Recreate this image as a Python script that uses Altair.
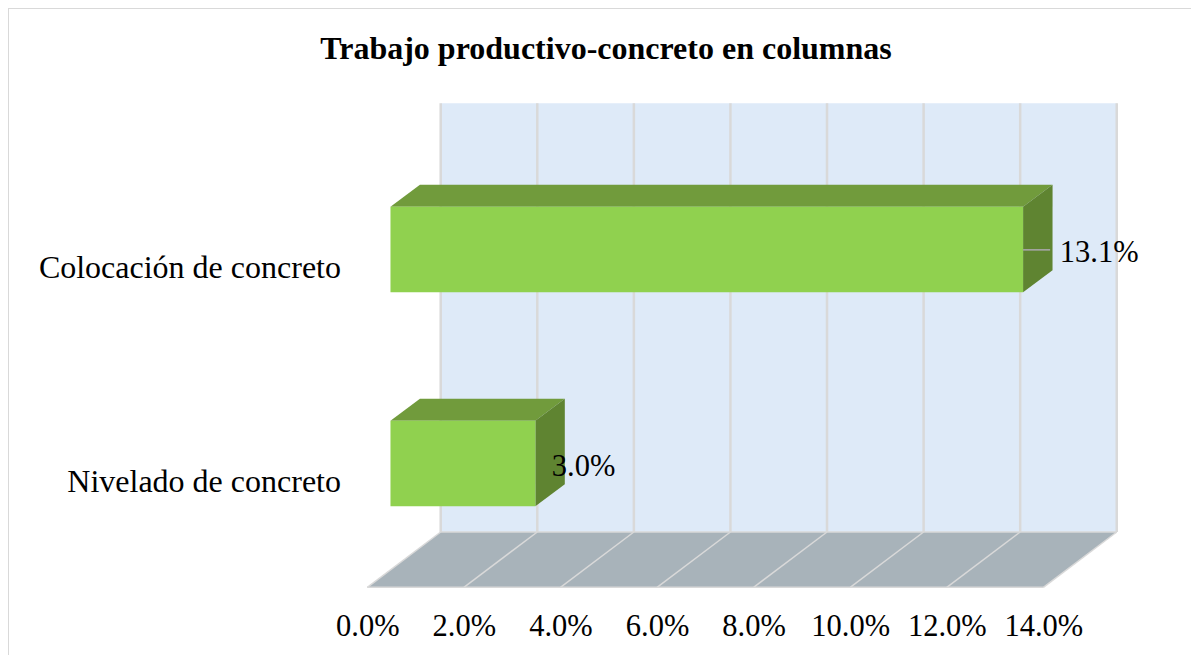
import altair as alt
import pandas as pd

# ---- values
title = "Trabajo productivo-concreto en columnas"
categories = ["Colocación de concreto", "Nivelado de concreto"]
values = [13.1, 3.0]            # percent
ticks = [0, 2, 4, 6, 8, 10, 12, 14]

# ---- geometry in data units (x: percent points, y: levels above the floor's front edge)
PX_PER_PCT = 48.29
WIDTH, HEIGHT = 1183, 587
X0 = 359.3 / PX_PER_PCT
Y0 = 67.7
x_scale = alt.Scale(domain=[-X0, WIDTH / PX_PER_PCT - X0], range=[0, WIDTH], nice=False, zero=False)
y_scale = alt.Scale(domain=[-Y0, HEIGHT - Y0], range=[HEIGHT, 0], nice=False, zero=False)

FLOOR_DX, FLOOR_DY = 1.52, 55.3
WALL_TOP = 484.0
BAR_X0 = 0.48
BAR_DX, BAR_DY = 0.61, 22.0
BAR_BASE = [295.0, 81.0]
BAR_H = 85.5
LABEL_X = [14.34, 3.82]
LABEL_Y = [325.5, 111.5]
CAT_Y = [309.3, 95.0]

C_WALL, C_FLOOR, C_GRID = "#deeaf8", "#a8b3ba", "#d9d9d9"
C_FRONT, C_TOP, C_SIDE = "#90d14f", "#719b3c", "#5f8431"
FONT = "Liberation Serif"
FS = 30.5
FS_CAT = 32
FS_TITLE = 32


def top_face(name, a, b, level, dx, dy, fill):
    return [
        dict(face=name, fill=fill, x=a, y=level, y2=level),
        dict(face=name, fill=fill, x=a + dx, y=level + dy, y2=level),
        dict(face=name, fill=fill, x=b, y=level + dy, y2=level),
        dict(face=name, fill=fill, x=b + dx, y=level + dy, y2=level + dy),
    ]


def side_face(name, a, lo, hi, dx, dy, fill):
    return [
        dict(face=name, fill=fill, x=a, y=hi, y2=lo),
        dict(face=name, fill=fill, x=a + dx, y=hi + dy, y2=lo + dy),
    ]


X = alt.X("x:Q", scale=x_scale, title=None,
          axis=alt.Axis(values=ticks, labelExpr="format(datum.value, '.1f') + '%'", grid=False,
                        domain=False, ticks=False, offset=-20, labelPadding=0,
                        labelBaseline="alphabetic", labelFont=FONT, labelFontSize=FS,
                        labelColor="#000000", labelFlush=False, labelOverlap=False, title=None))
XN2 = alt.X2("x2:Q")
Y = alt.Y("y:Q", scale=y_scale, axis=None)
Y2 = alt.Y2("y2:Q")

# back wall
wall = alt.Chart(pd.DataFrame([dict(x=FLOOR_DX, x2=14 + FLOOR_DX, y=FLOOR_DY, y2=WALL_TOP)])).mark_rect(
    color=C_WALL).encode(x=X, x2=XN2, y=Y, y2=Y2)

# wall grid
grid = alt.Chart(pd.DataFrame([dict(x=t + FLOOR_DX, y=FLOOR_DY, y2=WALL_TOP) for t in ticks])).mark_rule(
    color=C_GRID, strokeWidth=2.5).encode(x=X, y=Y, y2=Y2)

# floor
floor = alt.Chart(pd.DataFrame(top_face("floor", 0, 14, 0, FLOOR_DX, FLOOR_DY, C_FLOOR))).mark_area(
    orient="vertical", interpolate="linear", color=C_FLOOR).encode(x=X, y=Y, y2=Y2)

floor_line_rows = []
for t in ticks:
    floor_line_rows += [dict(t=t, x=t, y=0), dict(t=t, x=t + FLOOR_DX, y=FLOOR_DY)]
floor_lines = alt.Chart(pd.DataFrame(floor_line_rows)).mark_line(color=C_GRID, strokeWidth=1.5).encode(
    x=X, y=Y, detail="t:Q")
floor_edges = alt.Chart(pd.DataFrame([dict(x=0, x2=14, y=0), dict(x=FLOOR_DX, x2=14 + FLOOR_DX, y=FLOOR_DY)])).mark_rule(
    color=C_GRID, strokeWidth=1.5).encode(x=X, x2=XN2, y=Y)

# bars
front_rows, top_rows, side_rows = [], [], []
for c, v, b in zip(categories, values, BAR_BASE):
    r = BAR_X0 + v
    front_rows.append(dict(x=BAR_X0, x2=r, y=b, y2=b + BAR_H))
    top_rows += top_face(c + " top", BAR_X0, r, b + BAR_H, BAR_DX, BAR_DY, C_TOP)
    side_rows += side_face(c + " side", r, b, b + BAR_H, BAR_DX, BAR_DY, C_SIDE)

tops = alt.Chart(pd.DataFrame(top_rows)).mark_area(orient="vertical", interpolate="linear", color=C_TOP).encode(
    x=X, y=Y, y2=Y2, detail="face:N")
sides = alt.Chart(pd.DataFrame(side_rows)).mark_area(orient="vertical", interpolate="linear", color=C_SIDE).encode(
    x=X, y=Y, y2=Y2, detail="face:N")
fronts = alt.Chart(pd.DataFrame(front_rows)).mark_rect(color=C_FRONT).encode(x=X, x2=XN2, y=Y, y2=Y2)

# leader line of the long bar
leader = alt.Chart(pd.DataFrame([dict(x=BAR_X0 + values[0], x2=BAR_X0 + values[0] + 0.56,
                                      y=BAR_BASE[0] + BAR_H / 2 - 0.3)])).mark_rule(
    color="#a6a6a6", strokeWidth=1.6).encode(x=X, x2=XN2, y=Y)

# value and category labels
val_labels = alt.Chart(pd.DataFrame(dict(
    x=LABEL_X, y=LABEL_Y, t=[f"{v:.1f}%" for v in values]))).mark_text(
    align="left", baseline="alphabetic", font=FONT, fontSize=FS, color="#000000").encode(x=X, y=Y, text="t:N")
cat_labels = alt.Chart(pd.DataFrame(dict(
    x=[-0.545] * 2, y=CAT_Y, t=categories))).mark_text(
    align="right", baseline="alphabetic", font=FONT, fontSize=FS_CAT, color="#000000").encode(x=X, y=Y, text="t:N")

# outer frame of the picture
frame_left = alt.Chart(pd.DataFrame({"a": [0]})).mark_rule(color=C_GRID, strokeWidth=2).encode(
    x=alt.value(0), y=alt.value(-60), y2=alt.value(HEIGHT))
frame_top = alt.Chart(pd.DataFrame({"a": [0]})).mark_rule(color=C_GRID, strokeWidth=2).encode(
    x=alt.value(0), x2=alt.value(WIDTH), y=alt.value(-60))

chart = alt.layer(
    wall, grid, floor, floor_lines, floor_edges, tops, sides, fronts, leader, val_labels, cat_labels,
    frame_left, frame_top,
).properties(
    width=WIDTH, height=HEIGHT,
    padding={"left": 0, "top": 60, "right": 0, "bottom": 0},
    autosize=alt.AutoSizeParams(type="none"),
    background="#ffffff",
    title=alt.TitleParams(title, font=FONT, fontSize=FS_TITLE, fontWeight="bold", color="#000000",
                          anchor="middle", offset=-59, dx=6.5),
).configure_view(stroke=None)

chart.save("out.html", embed_options={"renderer": "svg", "actions": False})
